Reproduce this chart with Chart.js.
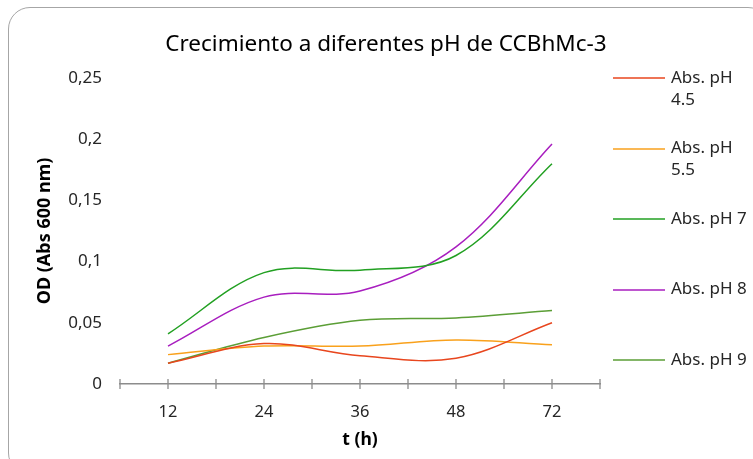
<!DOCTYPE html>
<html><head><meta charset="utf-8">
<script src="https://cdn.jsdelivr.net/npm/chart.js@4"></script>
<style>
html,body{margin:0;padding:0;background:#fff;overflow:hidden}
#wrap{position:relative;width:753px;height:459px;overflow:hidden}
#frame{position:absolute;left:8px;top:7px;width:762px;height:468px;border:1.5px solid #a6a6a6;border-radius:22px;box-sizing:border-box}
canvas{position:absolute;left:0;top:0}
</style></head><body>
<div id="wrap"><div id="frame"></div><canvas id="c" width="753" height="459"></canvas></div>
<script>
const categories = ['12', '24', '36', '48', '72'];
const seriesNames = ['Abs. pH 4.5', 'Abs. pH 5.5', 'Abs. pH 7', 'Abs. pH 8', 'Abs. pH 9'];
const ph45 = [0.017, 0.033, 0.023, 0.021, 0.050];
const ph55 = [0.024, 0.031, 0.031, 0.036, 0.032];
const ph7  = [0.041, 0.091, 0.093, 0.105, 0.180];
const ph8  = [0.031, 0.071, 0.076, 0.112, 0.196];
const ph9  = [0.017, 0.038, 0.052, 0.054, 0.060];
const yTicks = [0, 0.05, 0.1, 0.15, 0.2, 0.25];
const yTickLabels = ['0', '0,05', '0,1', '0,15', '0,2', '0,25'];
const colors = ['#E8461E', '#F9A11C', '#22A022', '#A81EBF', '#5B9E36'];
const seriesValues = [ph45, ph55, ph7, ph8, ph9];

const FONT = "'Noto Sans', 'Open Sans', sans-serif";

const extras = {
  id: 'extras',
  afterDraw(chart) {
    const {ctx, chartArea: a, scales: {x, y}} = chart;
    const y0 = y.getPixelForValue(0);
    ctx.save();
    ctx.strokeStyle = '#8c8c8c';
    ctx.lineWidth = 1.3;
    const step = x.getPixelForValue(1) - x.getPixelForValue(0);
    const pos = [];
    for (let i = 0; i < categories.length; i++) {
      const cx = x.getPixelForValue(i);
      pos.push(cx - step / 2, cx);
    }
    pos.push(x.getPixelForValue(categories.length - 1) + step / 2);
    ctx.beginPath();
    for (const px of pos) {
      ctx.moveTo(px, y0 - 5);
      ctx.lineTo(px, y0 + 5);
    }
    ctx.stroke();
    // legend
    ctx.font = '17px ' + FONT;
    ctx.textBaseline = 'middle';
    ctx.textAlign = 'left';
    const lx0 = a.right + 13, lx1 = a.right + 65, tx = a.right + 71;
    const maxW = chart.width - tx - 1;
    chart.data.datasets.forEach((ds, i) => {
      const ly = a.top + i * 70.5;
      const lyc = Math.round(ly);
      ctx.strokeStyle = ds.borderColor;
      ctx.lineWidth = 1.5;
      ctx.beginPath();
      ctx.moveTo(lx0, lyc);
      ctx.lineTo(lx1, lyc);
      ctx.stroke();
      ctx.fillStyle = '#262626';
      const words = ds.label.split(' ');
      const lines = [];
      let cur = '';
      for (const w of words) {
        const t = cur ? cur + ' ' + w : w;
        if (ctx.measureText(t).width > maxW && cur) { lines.push(cur); cur = w; }
        else cur = t;
      }
      lines.push(cur);
      lines.forEach((ln, j) => ctx.fillText(ln, tx, ly + j * 22));
    });
    ctx.restore();
  }
};

new Chart(document.getElementById('c'), {
  type: 'line',
  data: {
    labels: categories,
    datasets: seriesNames.map((n, i) => ({
      label: n,
      data: seriesValues[i],
      borderColor: colors[i],
      backgroundColor: colors[i],
      borderWidth: 1.5,
      pointRadius: 0,
      tension: 0.35,
      fill: false
    }))
  },
  options: {
    responsive: false,
    animation: false,
    events: [],
    layout: {padding: {left: 19, right: 0, top: 0, bottom: 5}},
    plugins: {
      legend: {display: false},
      tooltip: {enabled: false},
      title: {
        display: true,
        text: 'Crecimiento a diferentes pH de CCBhMc-3',
        color: '#000',
        font: {family: FONT, size: 22.5, weight: 'normal'},
        padding: {top: 31, bottom: 20}
      }
    },
    scales: {
      x: {
        type: 'category',
        offset: true,
        grid: {display: false, drawTicks: false},
        border: {display: true, color: '#8c8c8c', width: 1.5},
        ticks: {color: '#262626', font: {family: FONT, size: 16.5}, padding: 18, maxRotation: 0},
        title: {display: true, text: 't (h)', color: '#000', font: {family: FONT, size: 17.5, weight: 'bold'}, padding: {top: 0, bottom: 3}},
        afterFit(s) { s.height = 70; }
      },
      y: {
        type: 'linear',
        position: 'left',
        min: 0,
        max: 0.25,
        grid: {display: false, drawTicks: false},
        border: {display: false},
        afterBuildTicks(s) { s.ticks = yTicks.map(v => ({value: v})); },
        ticks: {
          color: '#262626',
          font: {family: FONT, size: 17},
          padding: 18,
          callback: (v, i) => yTickLabels[i]
        },
        title: {display: true, text: 'OD (Abs 600 nm)', color: '#000', font: {family: FONT, size: 18, weight: 'bold'}, padding: {top: 15, bottom: 0}},
        afterFit(s) { s.width = 101; }
      },
      legendSpace: {
        type: 'linear',
        position: 'right',
        min: 0,
        max: 1,
        display: true,
        grid: {display: false, drawTicks: false},
        border: {display: false},
        ticks: {display: false},
        afterFit(s) { s.width = 153; }
      }
    }
  },
  plugins: [extras]
});
</script>
</body></html>
